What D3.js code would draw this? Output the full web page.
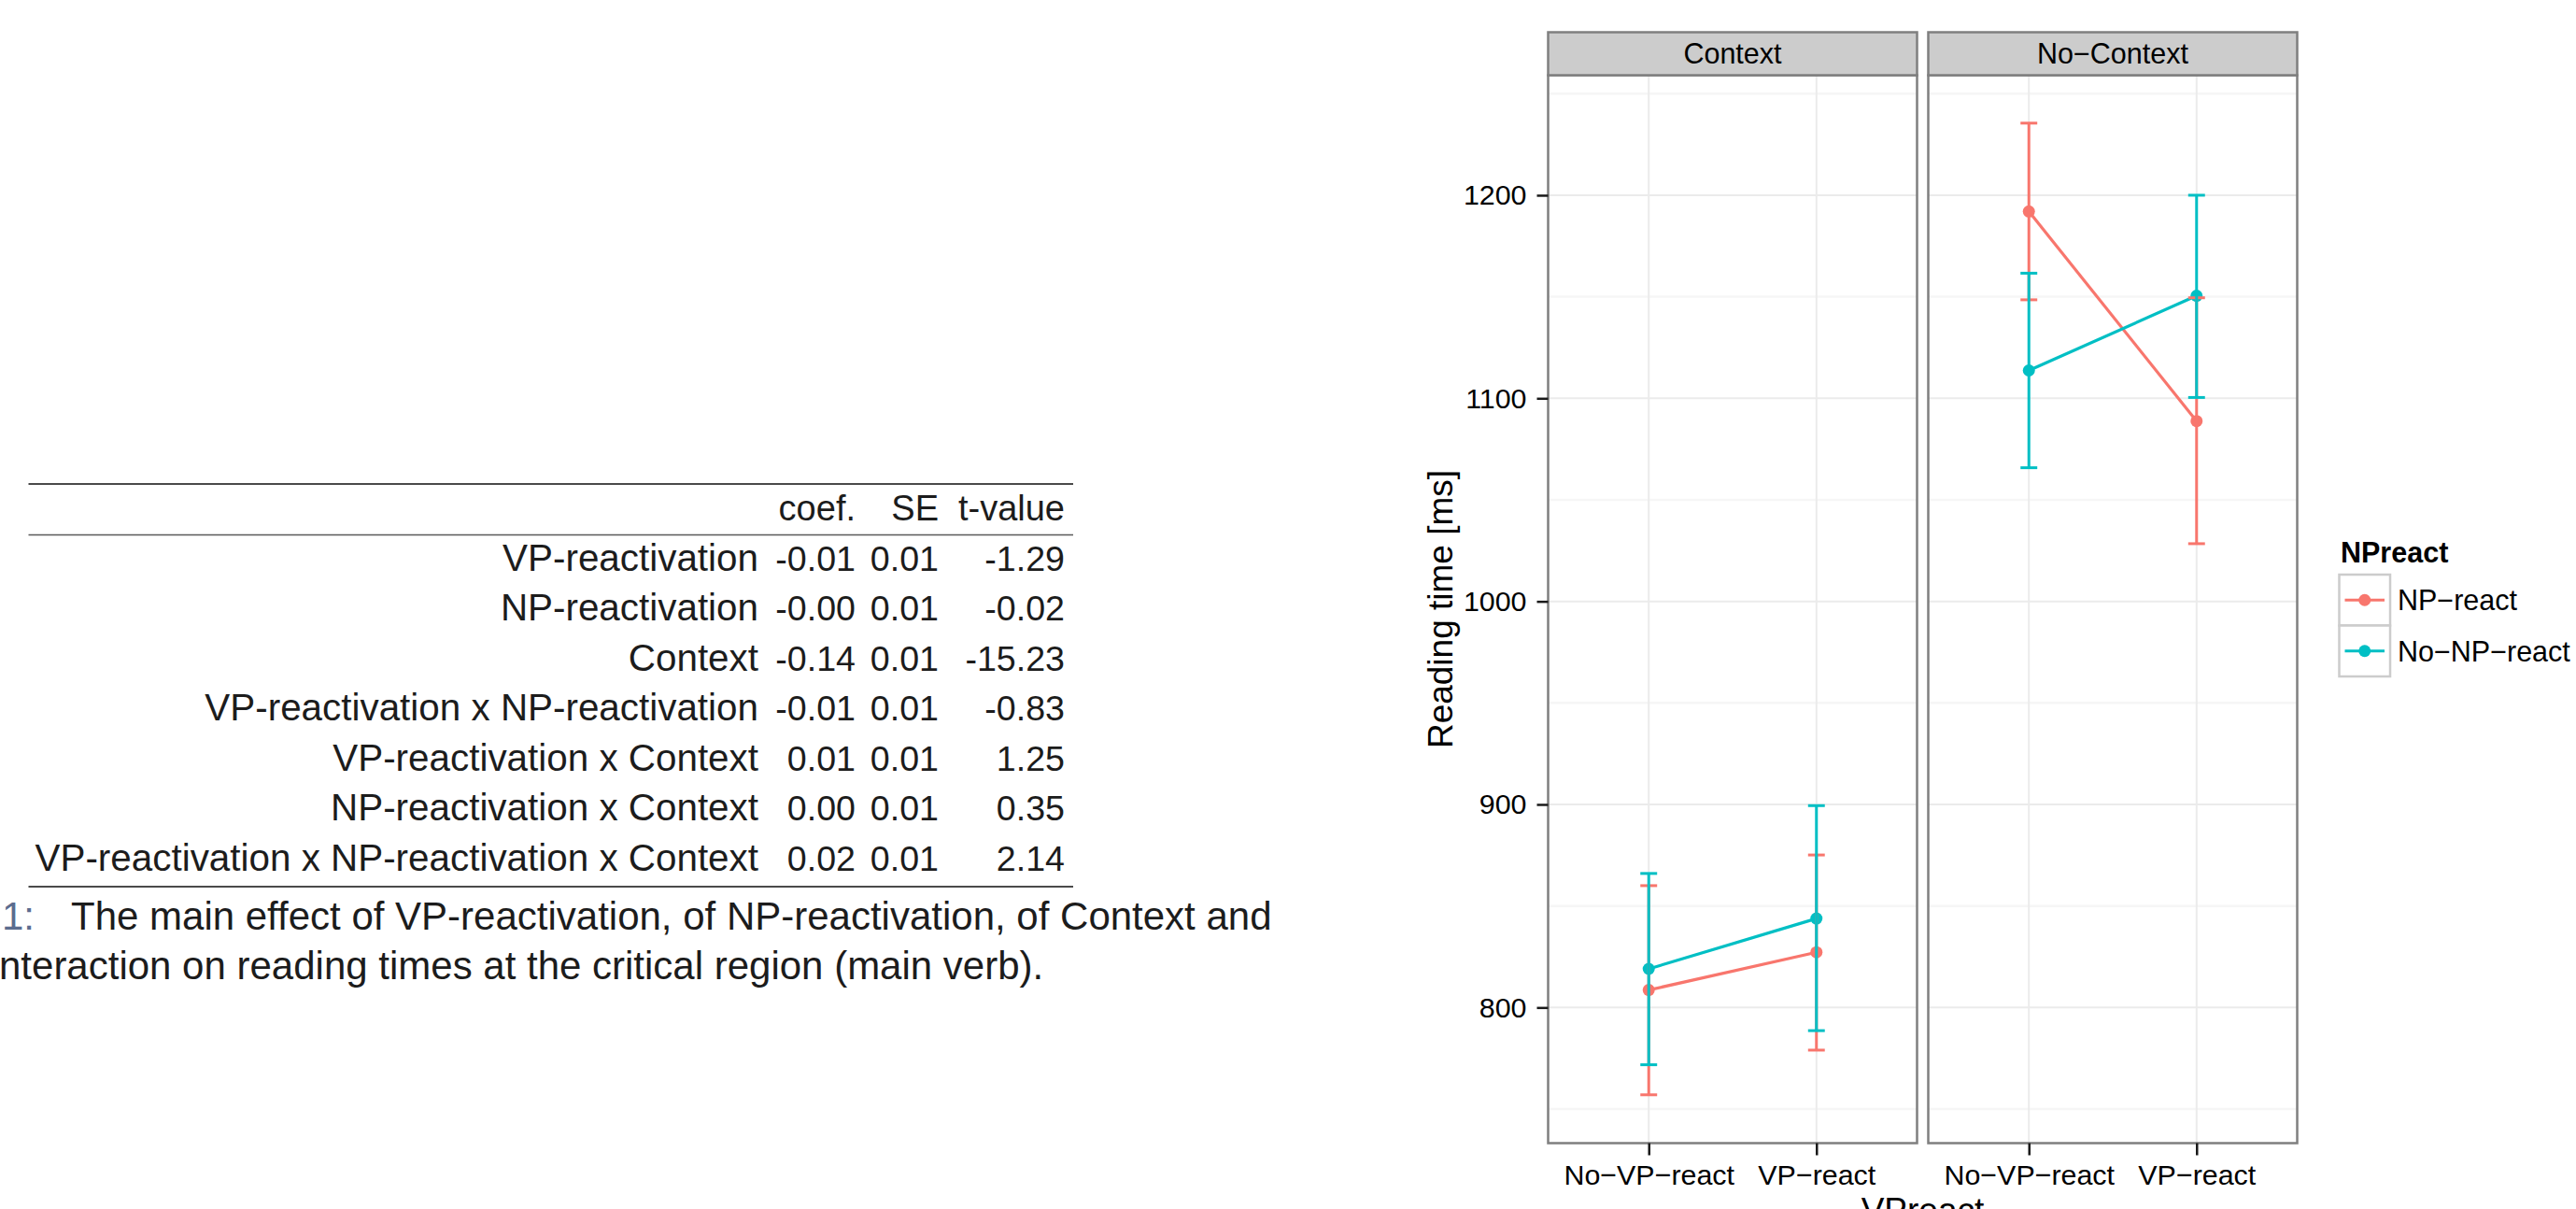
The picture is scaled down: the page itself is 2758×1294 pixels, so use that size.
<!DOCTYPE html>
<html>
<head>
<meta charset="utf-8">
<script src="https://cdn.jsdelivr.net/npm/d3@7"></script>
<style>
  body { margin: 0; background: #ffffff; }
  svg { display: block; }
</style>
</head>
<body>
<svg id="chart" width="2758" height="1294"></svg>
<script>
// ---------------- Table data ----------------
const tableHeader = ["coef.", "SE", "t-value"];
const termLabels = [
  "VP-reactivation",
  "NP-reactivation",
  "Context",
  "VP-reactivation x NP-reactivation",
  "VP-reactivation x Context",
  "NP-reactivation x Context",
  "VP-reactivation x NP-reactivation x Context"
];
const coefValues = ["-0.01", "-0.00", "-0.14", "-0.01", "0.01", "0.00", "0.02"];
const seValues = ["0.01", "0.01", "0.01", "0.01", "0.01", "0.01", "0.01"];
const tValues = ["-1.29", "-0.02", "-15.23", "-0.83", "1.25", "0.35", "2.14"];
const captionNumber = "1:";
const captionLine1 = "The main effect of VP-reactivation, of NP-reactivation, of Context and";
const captionLine2 = "nteraction on reading times at the critical region (main verb).";

// ---------------- Chart data ----------------
const panels = ["Context", "No\u2212Context"];
const vpLevels = ["No\u2212VP\u2212react", "VP\u2212react"];
const npLevels = ["NP\u2212react", "No\u2212NP\u2212react"];
// order of cells: Context/No-VP, Context/VP, No-Context/No-VP, No-Context/VP
const npReactMean = [808.6, 827.2, 1192.0, 1088.8];
const npReactLow = [757.0, 779.0, 1148.5, 1028.4];
const npReactHigh = [860.0, 875.1, 1235.5, 1149.5];
const noNpReactMean = [819.0, 843.8, 1113.7, 1150.5];
const noNpReactLow = [771.8, 788.6, 1065.8, 1100.4];
const noNpReactHigh = [866.0, 899.4, 1161.6, 1200.0];
const yTicks = [800, 900, 1000, 1100, 1200];
const yMinorTicks = [750, 850, 950, 1050, 1150, 1250];
const yDomain = [733.2, 1259.1];
const seriesColors = ["#F8766D", "#00BFC4"];

// ---------------- Setup ----------------
const svg = d3.select("#chart");
svg.append("rect").attr("width", 2758).attr("height", 1294).attr("fill", "#ffffff");

const sansFont = "'Liberation Sans', Arial, Helvetica, sans-serif";
const texColor = "#1c1c1c";

// ---------------- Table ----------------
const table = svg.append("g").attr("font-family", sansFont).attr("fill", texColor);
const colRight = d3.scaleOrdinal().domain([0, 1, 2, 3]).range([812, 916, 1005, 1140]);
const rowY = d3.scaleLinear().domain([0, termLabels.length - 1]).range([610.7, 931.7]);
const ruleX = [30.5, 1149];

table.append("line").attr("x1", ruleX[0]).attr("x2", ruleX[1]).attr("y1", 518).attr("y2", 518)
  .attr("stroke", "#4a4a4a").attr("stroke-width", 2.2);
table.append("line").attr("x1", ruleX[0]).attr("x2", ruleX[1]).attr("y1", 572.5).attr("y2", 572.5)
  .attr("stroke", "#5a5a5a").attr("stroke-width", 1.5);
table.append("line").attr("x1", ruleX[0]).attr("x2", ruleX[1]).attr("y1", 949).attr("y2", 949)
  .attr("stroke", "#4a4a4a").attr("stroke-width", 2.2);

table.selectAll("text.hdr").data(tableHeader).join("text")
  .attr("class", "hdr")
  .attr("x", (d, i) => colRight(i + 1))
  .attr("y", 557)
  .attr("text-anchor", "end")
  .attr("font-size", 38)
  .text(d => d);

table.selectAll("text.term").data(termLabels).join("text")
  .attr("class", "term")
  .attr("x", colRight(0))
  .attr("y", (d, i) => rowY(i))
  .attr("text-anchor", "end")
  .attr("font-size", 40.4)
  .text(d => d);

[coefValues, seValues, tValues].forEach((vals, c) => {
  table.selectAll("text.col" + c).data(vals).join("text")
    .attr("class", "col" + c)
    .attr("x", colRight(c + 1))
    .attr("y", (d, i) => rowY(i))
    .attr("text-anchor", "end")
    .attr("font-size", 37.6)
    .text(d => d);
});

table.append("text").attr("x", 2).attr("y", 995).attr("font-size", 42)
  .attr("fill", "#5b6c8f").text(captionNumber);
table.append("text").attr("x", 76).attr("y", 995).attr("font-size", 42).text(captionLine1);
table.append("text").attr("x", -1).attr("y", 1048).attr("font-size", 42).text(captionLine2);

// ---------------- Chart ----------------
const chart = svg.append("g").attr("font-family", sansFont);
const panelX = d3.scaleBand().domain(panels).range([1657.5, 2459.5]).paddingInner(0.0295);
const bw = panelX.bandwidth();
const panelTop = 80.5, panelBottom = 1223.5;
const y = d3.scaleLinear().domain(yDomain).range([panelBottom, panelTop]);
const xIn = d3.scalePoint().domain(vpLevels).range([0, bw]).padding(0.6);
const color = d3.scaleOrdinal().domain(npLevels).range(seriesColors);

const seriesData = [
  { np: npLevels[0], mean: npReactMean, low: npReactLow, high: npReactHigh },
  { np: npLevels[1], mean: noNpReactMean, low: noNpReactLow, high: noNpReactHigh }
];
function cells(series, pi) {
  return vpLevels.map((vp, vi) => {
    const k = pi * vpLevels.length + vi;
    return { np: series.np, vp: vp, mean: series.mean[k], low: series.low[k], high: series.high[k] };
  });
}

const lineGen = d3.line().x(d => xIn(d.vp)).y(d => y(d.mean));
const capHalf = xIn.step() * 0.05;

panels.forEach((p, pi) => {
  const g = chart.append("g").attr("transform", `translate(${panelX(p)},0)`);
  g.append("rect").attr("x", 0).attr("y", panelTop).attr("width", bw).attr("height", panelBottom - panelTop)
    .attr("fill", "#ffffff");
  // minor grid
  g.selectAll("line.minor").data(yMinorTicks.filter(v => v > yDomain[0] && v < yDomain[1])).join("line")
    .attr("class", "minor")
    .attr("x1", 0).attr("x2", bw).attr("y1", d => y(d)).attr("y2", d => y(d))
    .attr("stroke", "#f6f6f6").attr("stroke-width", 2.5);
  // major grid
  g.selectAll("line.major").data(yTicks).join("line")
    .attr("class", "major")
    .attr("x1", 0).attr("x2", bw).attr("y1", d => y(d)).attr("y2", d => y(d))
    .attr("stroke", "#ebebeb").attr("stroke-width", 2);
  g.selectAll("line.vmajor").data(vpLevels).join("line")
    .attr("class", "vmajor")
    .attr("x1", d => xIn(d)).attr("x2", d => xIn(d)).attr("y1", panelTop).attr("y2", panelBottom)
    .attr("stroke", "#ebebeb").attr("stroke-width", 2);

  // points
  seriesData.forEach(s => {
    g.selectAll(null).data(cells(s, pi)).join("circle")
      .attr("cx", d => xIn(d.vp)).attr("cy", d => y(d.mean)).attr("r", 6.5)
      .attr("fill", color(s.np));
  });
  // lines
  seriesData.forEach(s => {
    g.append("path").datum(cells(s, pi)).attr("d", lineGen)
      .attr("fill", "none").attr("stroke", color(s.np)).attr("stroke-width", 3.2);
  });
  // error bars
  seriesData.forEach(s => {
    const eb = g.append("g").attr("stroke", color(s.np)).attr("stroke-width", 3);
    const cs = cells(s, pi);
    eb.selectAll("line.v").data(cs).join("line").attr("class", "v")
      .attr("x1", d => xIn(d.vp)).attr("x2", d => xIn(d.vp))
      .attr("y1", d => y(d.low)).attr("y2", d => y(d.high));
    eb.selectAll("line.lo").data(cs).join("line").attr("class", "lo")
      .attr("x1", d => xIn(d.vp) - capHalf).attr("x2", d => xIn(d.vp) + capHalf)
      .attr("y1", d => y(d.low)).attr("y2", d => y(d.low));
    eb.selectAll("line.hi").data(cs).join("line").attr("class", "hi")
      .attr("x1", d => xIn(d.vp) - capHalf).attr("x2", d => xIn(d.vp) + capHalf)
      .attr("y1", d => y(d.high)).attr("y2", d => y(d.high));
  });

  // panel border
  g.append("rect").attr("x", 0).attr("y", panelTop).attr("width", bw).attr("height", panelBottom - panelTop)
    .attr("fill", "none").attr("stroke", "#7f7f7f").attr("stroke-width", 2.5);
  // strip
  g.append("rect").attr("x", 0).attr("y", 34.5).attr("width", bw).attr("height", panelTop - 34.5)
    .attr("fill", "#cccccc").attr("stroke", "#7f7f7f").attr("stroke-width", 2.5);
  g.append("text").attr("x", bw / 2).attr("y", 68.3).attr("text-anchor", "middle")
    .attr("font-size", 30.5).attr("fill", "#000").text(p);

  // x axis
  const xa = g.append("g").attr("transform", `translate(0,${panelBottom})`)
    .call(d3.axisBottom(xIn).tickSize(13).tickPadding(10));
  xa.select(".domain").remove();
  xa.selectAll(".tick line").attr("stroke", "#1a1a1a").attr("stroke-width", 2.5);
  xa.selectAll(".tick text").attr("font-size", 30.4).attr("font-family", sansFont).attr("fill", "#000");
});

// y axis
const ya = chart.append("g").attr("transform", `translate(${panelX(panels[0])},0)`)
  .call(d3.axisLeft(y).tickValues(yTicks).tickSize(12).tickPadding(11).tickFormat(d3.format("d")));
ya.select(".domain").remove();
ya.selectAll(".tick line").attr("stroke", "#1a1a1a").attr("stroke-width", 2.5);
ya.selectAll(".tick text").attr("font-size", 30.4).attr("font-family", sansFont).attr("fill", "#000");

// axis titles
chart.append("text")
  .attr("transform", `translate(1555,${(panelTop + panelBottom) / 2}) rotate(-90)`)
  .attr("text-anchor", "middle").attr("font-size", 37).attr("fill", "#000")
  .text("Reading time [ms]");
chart.append("text")
  .attr("x", (panelX(panels[0]) + panelX(panels[1]) + bw) / 2).attr("y", 1308)
  .attr("text-anchor", "middle").attr("font-size", 37).attr("fill", "#000")
  .text("VPreact");

// legend
const legend = chart.append("g");
const keyY = d3.scaleBand().domain(npLevels).range([615, 724]);
const keyX = 2504.5, keyW = keyY.bandwidth();
legend.append("text").attr("x", 2506).attr("y", 601.7).attr("font-size", 30.5)
  .attr("font-weight", "bold").attr("fill", "#000").text("NPreact");
npLevels.forEach(np => {
  const ky = keyY(np);
  legend.append("rect").attr("x", keyX).attr("y", ky).attr("width", keyW).attr("height", keyW)
    .attr("fill", "#ffffff").attr("stroke", "#cccccc").attr("stroke-width", 2.5);
  legend.append("line").attr("x1", keyX + 6).attr("x2", keyX + keyW - 6)
    .attr("y1", ky + keyW / 2).attr("y2", ky + keyW / 2)
    .attr("stroke", color(np)).attr("stroke-width", 3.2);
  legend.append("circle").attr("cx", keyX + keyW / 2).attr("cy", ky + keyW / 2).attr("r", 6.5)
    .attr("fill", color(np));
  legend.append("text").attr("x", 2567).attr("y", ky + keyW / 2 + 11).attr("font-size", 30.5)
    .attr("fill", "#000").text(np);
});
</script>
</body>
</html>
